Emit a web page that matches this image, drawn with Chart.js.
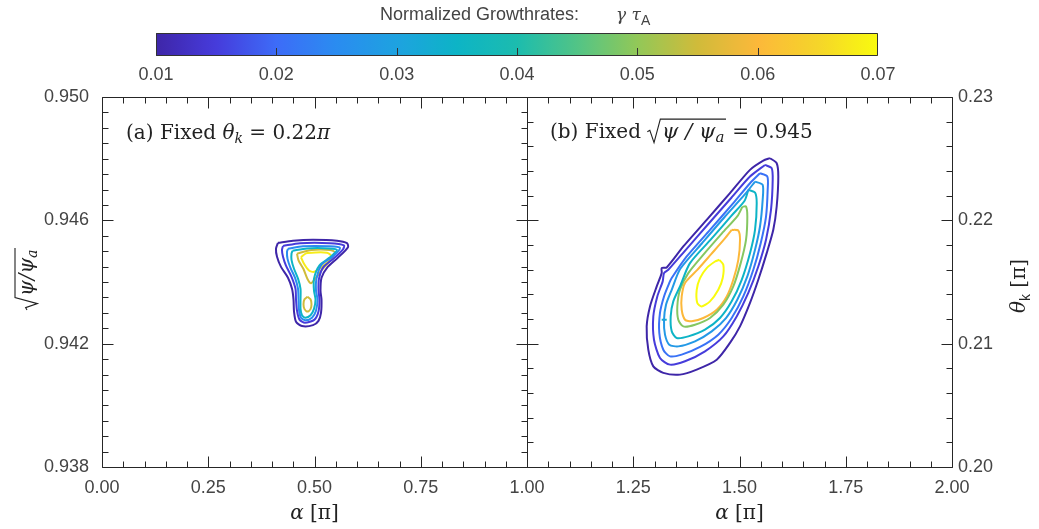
<!DOCTYPE html>
<html>
<head>
<meta charset="utf-8">
<script src="https://cdn.jsdelivr.net/npm/chart.js@4.4.0/dist/chart.umd.min.js"></script>
<style>
  html, body { margin: 0; padding: 0; background: #fff; }
  canvas { display: block; }
</style>
</head>
<body>
<canvas id="growth" width="1039" height="529"></canvas>
<script>
// axis tick labels
const alphaTicks = [0, 0.25, 0.5, 0.75, 1, 1.25, 1.5, 1.75, 2]
const psiTicks = [0.938, 0.942, 0.946, 0.950]
const thetaTicks = [0.20, 0.21, 0.22, 0.23]
const rateTicks = [0.01, 0.02, 0.03, 0.04, 0.05, 0.06, 0.07]

// growth rate of each contour line, outermost first
const levelsA = [0.010, 0.015, 0.025, 0.035, 0.055, 0.055, 0.068]
const levelsB = [0.010, 0.015, 0.021, 0.028, 0.035, 0.049, 0.060, 0.070, 0.035]

// (a) fixed theta_k: points are [alpha, sqrt(psi/psi_a)]
const contourA1 = [[0.4141,0.94527],[0.4494,0.94534],[0.4965,0.94537],[0.5529,0.94534],[0.5765,0.94526],[0.5788,0.94513],[0.5553,0.94479],[0.5294,0.94446],[0.5165,0.94414],[0.5141,0.94372],[0.5165,0.94343],[0.5153,0.94300],[0.5094,0.94274],[0.4965,0.94260],[0.4706,0.94257],[0.4565,0.94271],[0.4518,0.94304],[0.4506,0.94343],[0.4471,0.94378],[0.4376,0.94414],[0.4212,0.94449],[0.4118,0.94482],[0.4094,0.94508]]
const contourA2 = [[0.4259,0.94517],[0.4659,0.94526],[0.5365,0.94526],[0.5694,0.94519],[0.5671,0.94506],[0.5459,0.94477],[0.5212,0.94449],[0.5106,0.94411],[0.5094,0.94372],[0.5118,0.94343],[0.5094,0.94304],[0.5000,0.94278],[0.4776,0.94268],[0.4647,0.94278],[0.4588,0.94307],[0.4565,0.94343],[0.4553,0.94378],[0.4459,0.94417],[0.4329,0.94453],[0.4259,0.94482],[0.4235,0.94504]]
const contourA3 = [[0.4376,0.94508],[0.4729,0.94516],[0.5341,0.94516],[0.5600,0.94511],[0.5435,0.94483],[0.5165,0.94456],[0.5047,0.94411],[0.5035,0.94372],[0.5071,0.94343],[0.5035,0.94307],[0.4941,0.94284],[0.4788,0.94276],[0.4682,0.94284],[0.4635,0.94310],[0.4624,0.94343],[0.4612,0.94378],[0.4541,0.94414],[0.4435,0.94446],[0.4365,0.94475],[0.4353,0.94498]]
const contourA4 = [[0.4482,0.94501],[0.4824,0.94509],[0.5341,0.94509],[0.5529,0.94504],[0.5365,0.94480],[0.5118,0.94454],[0.4988,0.94411],[0.4988,0.94372],[0.5024,0.94343],[0.4988,0.94313],[0.4906,0.94292],[0.4788,0.94284],[0.4706,0.94292],[0.4671,0.94313],[0.4671,0.94343],[0.4671,0.94378],[0.4612,0.94411],[0.4518,0.94443],[0.4459,0.94472],[0.4459,0.94492]]
const contourA5 = [[0.4588,0.94492],[0.4929,0.94504],[0.5365,0.94504],[0.5482,0.94496],[0.5376,0.94470],[0.5188,0.94442],[0.5024,0.94412],[0.4918,0.94396],[0.4835,0.94410],[0.4741,0.94442],[0.4624,0.94470]]
const contourA5low = [[0.4835,0.94352],[0.4906,0.94344],[0.4929,0.94328],[0.4906,0.94312],[0.4835,0.94304],[0.4765,0.94312],[0.4741,0.94328],[0.4765,0.94344]]
const contourA6 = [[0.4682,0.94480],[0.4800,0.94493],[0.5035,0.94496],[0.5294,0.94495],[0.5388,0.94486],[0.5341,0.94470],[0.5176,0.94450],[0.4988,0.94433],[0.4871,0.94437],[0.4753,0.94459]]

// (b) fixed sqrt(psi/psi_a): points are [alpha, theta_k]
const contourB1 = [[1.5718,0.22504],[1.5875,0.22463],[1.5913,0.22355],[1.5875,0.22112],[1.5795,0.21923],[1.5640,0.21734],[1.5442,0.21518],[1.5247,0.21330],[1.5012,0.21140],[1.4776,0.21006],[1.4464,0.20870],[1.3993,0.20790],[1.3600,0.20749],[1.3207,0.20763],[1.2972,0.20816],[1.2854,0.20951],[1.2816,0.21140],[1.2894,0.21302],[1.3052,0.21464],[1.3169,0.21572],[1.3169,0.21613],[1.3287,0.21618],[1.3678,0.21788],[1.4228,0.22004],[1.4776,0.22220],[1.5247,0.22409],[1.5560,0.22484]]
const contourB2 = [[1.5600,0.22449],[1.5757,0.22423],[1.5781,0.22328],[1.5741,0.22085],[1.5624,0.21842],[1.5442,0.21626],[1.5207,0.21411],[1.4934,0.21221],[1.4619,0.21059],[1.4188,0.20938],[1.3718,0.20857],[1.3365,0.20830],[1.3129,0.20884],[1.2988,0.21032],[1.2972,0.21221],[1.3066,0.21383],[1.3193,0.21505],[1.3224,0.21572],[1.3325,0.21599],[1.3711,0.21751],[1.4261,0.21968],[1.4809,0.22183],[1.5247,0.22355]]
const contourB3 = [[1.5482,0.22382],[1.5655,0.22355],[1.5663,0.22247],[1.5624,0.22031],[1.5499,0.21815],[1.5325,0.21599],[1.5089,0.21383],[1.4816,0.21208],[1.4501,0.21073],[1.4071,0.20973],[1.3640,0.20911],[1.3365,0.20897],[1.3207,0.20951],[1.3113,0.21087],[1.3129,0.21249],[1.3224,0.21383],[1.3348,0.21492],[1.3405,0.21532],[1.3758,0.21707],[1.4306,0.21923],[1.4854,0.22139],[1.5247,0.22301]]
const contourB4 = [[1.5365,0.22314],[1.5545,0.22287],[1.5545,0.22166],[1.5482,0.21950],[1.5365,0.21761],[1.5184,0.21545],[1.4948,0.21356],[1.4682,0.21208],[1.4346,0.21100],[1.3953,0.21019],[1.3560,0.20978],[1.3348,0.20992],[1.3247,0.21073],[1.3224,0.21194],[1.3271,0.21316],[1.3405,0.21437],[1.3607,0.21607],[1.4113,0.21812],[1.4659,0.22031],[1.5125,0.22210]]
const contourB5 = [[1.5207,0.22247],[1.5365,0.22225],[1.5405,0.22139],[1.5365,0.21923],[1.5247,0.21734],[1.5052,0.21518],[1.4816,0.21343],[1.4541,0.21208],[1.4188,0.21113],[1.3795,0.21059],[1.3522,0.21046],[1.3405,0.21100],[1.3381,0.21221],[1.3442,0.21343],[1.3600,0.21464],[1.3831,0.21651],[1.4311,0.21839],[1.4807,0.22036],[1.5120,0.22159]]
const contourB6 = [[1.5066,0.22109],[1.5153,0.22112],[1.5184,0.22031],[1.5153,0.21842],[1.5028,0.21653],[1.4854,0.21464],[1.4619,0.21316],[1.4306,0.21208],[1.3953,0.21154],[1.3678,0.21140],[1.3560,0.21194],[1.3537,0.21302],[1.3600,0.21437],[1.3795,0.21572],[1.4151,0.21722],[1.4591,0.21896],[1.4960,0.22039]]
const contourB7 = [[1.4816,0.21923],[1.4972,0.21917],[1.5012,0.21842],[1.4972,0.21680],[1.4854,0.21518],[1.4699,0.21383],[1.4464,0.21275],[1.4148,0.21208],[1.3875,0.21181],[1.3718,0.21194],[1.3640,0.21275],[1.3640,0.21383],[1.3718,0.21492],[1.4007,0.21598],[1.4339,0.21728],[1.4647,0.21849]]
const contourB8 = [[1.4525,0.21680],[1.4619,0.21640],[1.4605,0.21532],[1.4501,0.21437],[1.4306,0.21343],[1.4111,0.21302],[1.4007,0.21330],[1.3993,0.21437],[1.4071,0.21532],[1.4228,0.21613],[1.4424,0.21666]]
const contourBspur = [[1.3169,0.21194],[1.3287,0.21194]]

const panelA = [contourA1, contourA2, contourA3, contourA4, contourA5, contourA5low, contourA6]
const panelB = [contourB1, contourB2, contourB3, contourB4, contourB5, contourB6, contourB7, contourB8, contourBspur]

// parula-like colour map
const cmap = [
  [0.000, [62, 38, 168]], [0.080, [70, 58, 218]], [0.167, [61, 108, 248]],
  [0.250, [42, 140, 240]], [0.333, [30, 162, 224]], [0.417, [13, 180, 198]],
  [0.500, [28, 188, 174]], [0.583, [82, 196, 134]], [0.667, [146, 200, 88]],
  [0.750, [208, 187, 58]], [0.833, [252, 184, 58]], [0.917, [245, 213, 42]],
  [1.000, [249, 251, 14]]
]
const rateMin = rateTicks[0], rateMax = rateTicks[rateTicks.length - 1]

const colorAt = (v) => {
  const t = Math.min(1, Math.max(0, (v - rateMin) / (rateMax - rateMin)))
  for (let i = 1; i < cmap.length; i++) {
    if (t <= cmap[i][0]) {
      const [t0, c0] = cmap[i - 1], [t1, c1] = cmap[i]
      const f = (t - t0) / (t1 - t0)
      const c = c0.map((a, k) => Math.round(a + (c1[k] - a) * f))
      return `rgb(${c[0]},${c[1]},${c[2]})`
    }
  }
  return 'rgb(249,251,14)'
}

const closeLoop = (pts) => {
  const out = pts.map(([x, y]) => ({ x, y }))
  if (pts.length > 2) out.push({ x: pts[0][0], y: pts[0][1] })
  return out
}

const datasets = []
panelA.forEach((pts, i) => datasets.push({
  data: closeLoop(pts), yAxisID: 'yL', borderColor: colorAt(levelsA[i])
}))
panelB.forEach((pts, i) => datasets.push({
  data: closeLoop(pts), yAxisID: 'yR', borderColor: colorAt(levelsB[i])
}))

const sans = '"Liberation Sans", Arial, sans-serif'
const serif = '"DejaVu Serif", serif'
const labelColor = '#444'
const inkColor = '#222'

const measureRuns = (ctx, runs) => {
  let w = 0
  runs.forEach(r => { ctx.font = r[1]; w += ctx.measureText(r[0]).width })
  return w
}
const drawRuns = (ctx, runs, x, y) => {
  let cx = x
  runs.forEach(r => {
    ctx.font = r[1]
    ctx.fillText(r[0], cx, y + (r[2] || 0))
    cx += ctx.measureText(r[0]).width
  })
  return cx - x
}
// radical sign with overline over the runs
const sqrtWidth = (ctx, runs, s) => 0.66 * s + measureRuns(ctx, runs) + 0.12 * s
const drawSqrt = (ctx, runs, x, y, s) => {
  const inner = measureRuns(ctx, runs)
  const rw = 0.66 * s
  ctx.save()
  ctx.strokeStyle = ctx.fillStyle
  ctx.lineWidth = 1.1
  ctx.beginPath()
  ctx.moveTo(x, y - 0.3 * s)
  ctx.lineTo(x + 0.12 * s, y - 0.37 * s)
  ctx.lineTo(x + 0.32 * s, y + 0.22 * s)
  ctx.lineTo(x + rw - 0.04 * s, y - 0.9 * s)
  ctx.lineTo(x + rw + inner + 0.12 * s, y - 0.9 * s)
  ctx.stroke()
  ctx.restore()
  drawRuns(ctx, runs, x + rw + 0.04 * s, y)
  return rw + inner + 0.12 * s
}

const decorations = {
  id: 'decorations',
  afterDatasetsDraw(chart) {
    const ctx = chart.ctx
    const { left, right, top, bottom } = chart.chartArea
    const x = chart.scales.x, yL = chart.scales.yL, yR = chart.scales.yR
    const mid = Math.round(x.getPixelForValue(1)) + 0.5
    const crisp = v => Math.round(v) + 0.5
    const L = crisp(left), R = crisp(right), T = crisp(top), B = crisp(bottom)

    ctx.save()
    ctx.strokeStyle = '#262626'
    ctx.lineWidth = 1
    ctx.beginPath()
    ctx.rect(L, T, R - L, B - T)
    ctx.moveTo(mid, T); ctx.lineTo(mid, B)
    // alpha ticks on bottom and top edges
    for (let i = 0; i <= 40; i++) {
      const px = crisp(x.getPixelForValue(i * 0.05))
      const len = i % 5 === 0 ? 11 : 6
      ctx.moveTo(px, B); ctx.lineTo(px, B - len)
      ctx.moveTo(px, T); ctx.lineTo(px, T + len)
    }
    // left panel: psi ticks on both of its sides
    for (let i = 0; i <= 24; i++) {
      const py = crisp(yL.getPixelForValue(0.938 + i * 0.0005))
      const len = i % 8 === 0 ? 11 : 6
      ctx.moveTo(L, py); ctx.lineTo(L + len, py)
      ctx.moveTo(mid, py); ctx.lineTo(mid - len, py)
    }
    // right panel: theta ticks on both of its sides
    for (let i = 0; i <= 15; i++) {
      const py = crisp(yR.getPixelForValue(0.20 + i * 0.002))
      const len = i % 5 === 0 ? 11 : 6
      ctx.moveTo(mid, py); ctx.lineTo(mid + len, py)
      ctx.moveTo(R, py); ctx.lineTo(R - len, py)
    }
    ctx.stroke()

    // colour bar
    const cbL = 156, cbR = 878, cbT = 33, cbB = 56
    const cbX = v => cbL + (v - rateMin) / (rateMax - rateMin) * (cbR - cbL)
    const grad = ctx.createLinearGradient(cbL, 0, cbR, 0)
    for (let i = 0; i <= 60; i++) grad.addColorStop(i / 60, colorAt(rateMin + (rateMax - rateMin) * i / 60))
    ctx.fillStyle = grad
    ctx.fillRect(cbL, cbT, cbR - cbL, cbB - cbT)
    ctx.strokeStyle = '#333'
    ctx.beginPath()
    ctx.rect(cbL + 0.5, cbT + 0.5, cbR - cbL - 1, cbB - cbT - 1)
    rateTicks.slice(1, -1).forEach(v => {
      const px = crisp(cbX(v))
      ctx.moveTo(px, cbB); ctx.lineTo(px, cbB - 8)
    })
    ctx.stroke()

    ctx.fillStyle = labelColor
    ctx.textBaseline = 'middle'
    ctx.textAlign = 'center'
    ctx.font = `18px ${sans}`
    rateTicks.forEach(v => ctx.fillText(v.toFixed(2), cbX(v), 75))
    ctx.textAlign = 'left'
    ctx.fillText('Normalized Growthrates:', 380, 15)
    ctx.textBaseline = 'alphabetic'
    drawRuns(ctx, [['\u03b3 \u03c4', `italic 17px ${serif}`], ['A', `14px ${sans}`, 5]], 616, 20)

    // axis titles
    ctx.fillStyle = inkColor
    const xTitle = [['\u03b1', `italic 20px ${serif}`], [' [\u03c0]', `20px ${serif}`]]
    const xw = measureRuns(ctx, xTitle)
    drawRuns(ctx, xTitle, x.getPixelForValue(0.5) - xw / 2, 519)
    drawRuns(ctx, xTitle, x.getPixelForValue(1.5) - xw / 2, 519)

    const psiRuns = [['\u03c8/\u03c8', `italic 20px ${serif}`], ['a', `italic 14px ${serif}`, 4]]
    ctx.save()
    ctx.translate(33, 279)
    ctx.rotate(-Math.PI / 2)
    const pw = sqrtWidth(ctx, psiRuns, 20)
    drawSqrt(ctx, psiRuns, -pw / 2, 0, 20)
    ctx.restore()

    const thetaRuns = [['\u03b8', `italic 20px ${serif}`], ['k', `14px ${sans}`, 5], [' [\u03c0]', `20px ${serif}`]]
    ctx.save()
    ctx.translate(1025, 286)
    ctx.rotate(-Math.PI / 2)
    const tw = measureRuns(ctx, thetaRuns)
    drawRuns(ctx, thetaRuns, -tw / 2, 0)
    ctx.restore()

    // panel captions
    drawRuns(ctx, [
      ['(a) Fixed ', `20px ${serif}`], ['\u03b8', `italic 20px ${serif}`], ['k', `italic 14px ${serif}`, 4],
      [' = 0.22', `20px ${serif}`], ['\u03c0', `italic 20px ${serif}`]
    ], 126, 139)
    const psiRunsB = [['\u03c8 / \u03c8', `italic 21px ${serif}`], ['a', `italic 15px ${serif}`, 4]]
    let cx = 550
    cx += drawRuns(ctx, [['(b) Fixed ', `20px ${serif}`]], cx, 138)
    cx += drawSqrt(ctx, psiRunsB, cx, 138, 21)
    drawRuns(ctx, [[' = 0.945', `20px ${serif}`]], cx, 138)
    ctx.restore()
  }
}

const tickFont = { family: sans, size: 18 }

new Chart(document.getElementById('growth'), {
  type: 'scatter',
  data: { datasets },
  options: {
    responsive: false,
    animation: false,
    devicePixelRatio: 1,
    showLine: true,
    layout: { padding: { top: 97, left: 0, right: 0, bottom: 0 } },
    plugins: { legend: { display: false }, tooltip: { enabled: false }, title: { display: false } },
    elements: {
      point: { radius: 0, hoverRadius: 0 },
      line: { borderWidth: 2, tension: 0.25, fill: false }
    },
    scales: {
      x: {
        type: 'linear', position: 'bottom', min: 0, max: 2,
        grid: { display: false, drawTicks: false }, border: { display: false },
        afterBuildTicks: s => { s.ticks = alphaTicks.map(v => ({ value: v })) },
        afterFit: s => { s.height = 62 },
        ticks: { padding: 10, maxRotation: 0, autoSkip: false, color: labelColor, font: tickFont, callback: v => v.toFixed(2) }
      },
      yL: {
        type: 'linear', position: 'left', min: 0.938, max: 0.950,
        grid: { display: false, drawTicks: false }, border: { display: false },
        afterBuildTicks: s => { s.ticks = psiTicks.map(v => ({ value: v })) },
        afterFit: s => { s.width = 102 },
        ticks: { padding: 13, autoSkip: false, color: labelColor, font: tickFont, callback: v => v.toFixed(3) }
      },
      yR: {
        type: 'linear', position: 'right', min: 0.20, max: 0.23,
        grid: { display: false, drawTicks: false }, border: { display: false },
        afterBuildTicks: s => { s.ticks = thetaTicks.map(v => ({ value: v })) },
        afterFit: s => { s.width = 87 },
        ticks: { padding: 6, autoSkip: false, color: labelColor, font: tickFont, callback: v => v.toFixed(2) }
      }
    }
  },
  plugins: [decorations]
})
</script>
</body>
</html>
